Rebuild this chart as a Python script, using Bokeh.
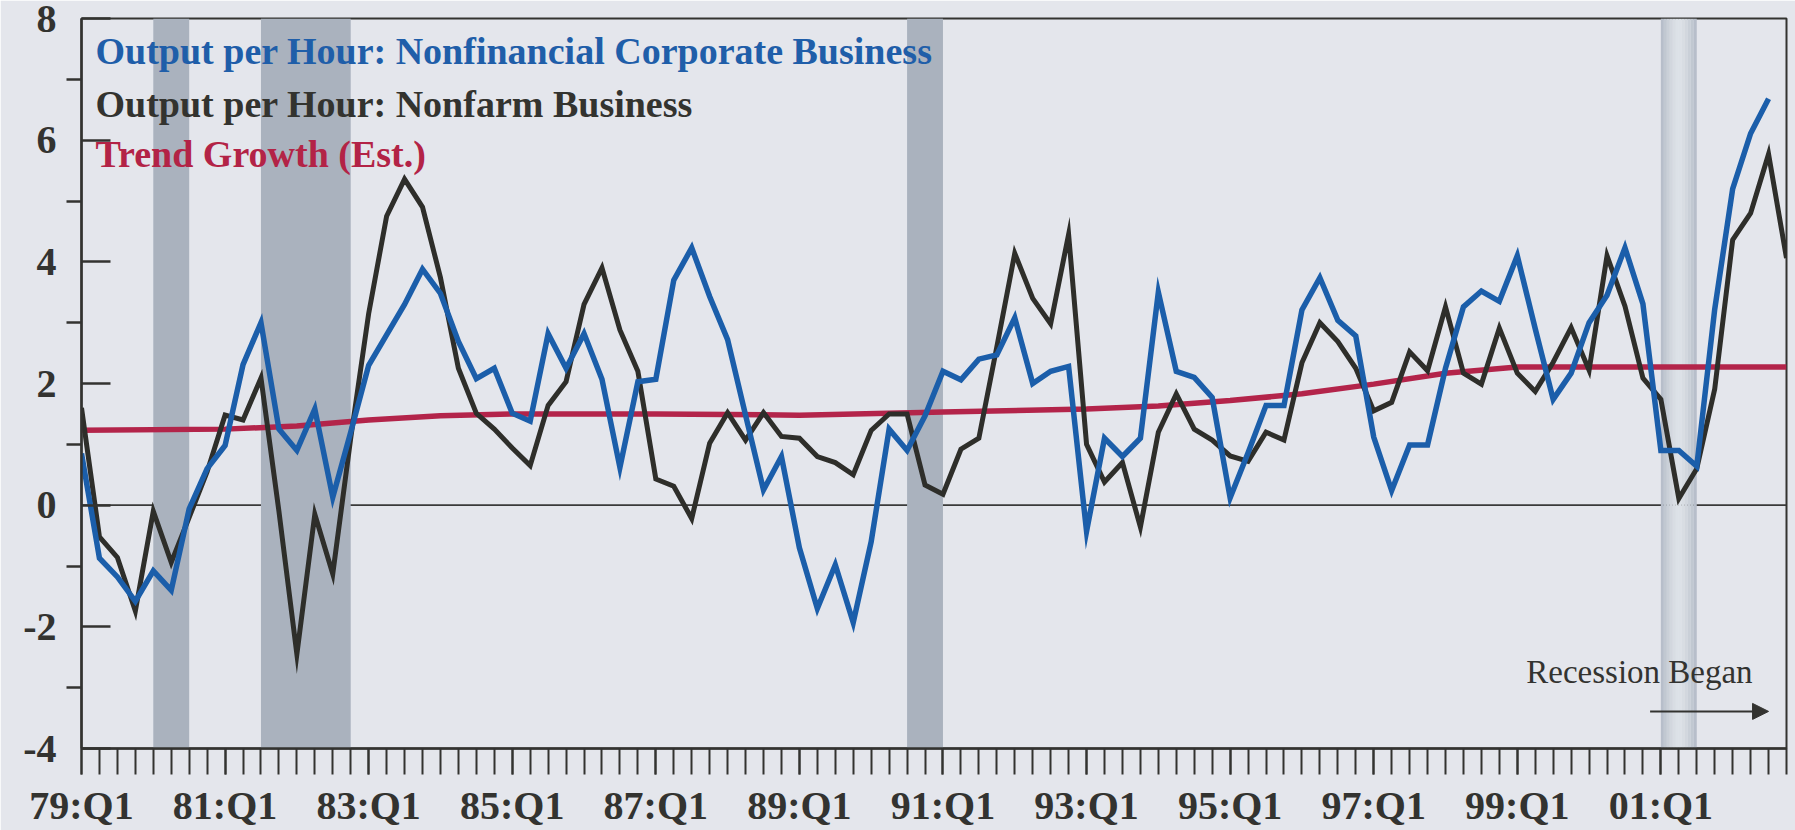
from bokeh.plotting import figure
from bokeh.models import (Range1d, FixedTicker, Span, BoxAnnotation, Label,
                          Arrow, NormalHead)
from bokeh.embed import file_html
from bokeh.resources import INLINE

# ---------------- data (quarter index 0 = 79:Q1) ----------------
nonfarm = [1.6, -0.52, -0.86, -1.74, -0.1, -0.94, -0.2, 0.55, 1.48, 1.4,
           2.09, -0.1, -2.45, -0.15, -1.13, 1.1, 3.15, 4.75, 5.36, 4.9,
           3.74, 2.25, 1.51, 1.25, 0.94, 0.65, 1.64, 2.03, 3.3, 3.9,
           2.88, 2.2, 0.43, 0.31, -0.22, 1.02, 1.52, 1.07, 1.52, 1.13,
           1.1, 0.8, 0.7, 0.5, 1.23, 1.5, 1.5, 0.33, 0.18, 0.92,
           1.1, 2.6, 4.14, 3.4, 2.98, 4.45, 1.0, 0.38, 0.7, -0.36,
           1.2, 1.83, 1.25, 1.07, 0.81, 0.72, 1.2, 1.07, 2.34, 3.0,
           2.69, 2.25, 1.55, 1.69, 2.52, 2.21, 3.26, 2.17, 1.99, 2.91,
           2.17, 1.87, 2.35, 2.92, 2.22, 4.1, 3.27, 2.09, 1.74, 0.11,
           0.6, 1.91, 4.36, 4.8, 5.77, 4.06]
nonfin_corp = [0.85, -0.87, -1.18, -1.58, -1.08, -1.4, -0.06, 0.6, 0.98, 2.31,
               3.0, 1.25, 0.9, 1.58, 0.13, 1.2, 2.3, 2.8, 3.3, 3.88,
               3.48, 2.69, 2.08, 2.25, 1.51, 1.38, 2.82, 2.25, 2.82, 2.07,
               0.62, 2.03, 2.07, 3.7, 4.23, 3.43, 2.72, 1.48, 0.25, 0.8,
               -0.7, -1.7, -0.98, -1.93, -0.6, 1.25, 0.9, 1.47, 2.2, 2.06,
               2.4, 2.47, 3.08, 2.0, 2.2, 2.28, -0.43, 1.1, 0.8, 1.1,
               3.5, 2.2, 2.1, 1.77, 0.12, 0.86, 1.64, 1.64, 3.21, 3.74,
               3.04, 2.78, 1.12, 0.24, 0.99, 0.99, 2.25, 3.26, 3.52, 3.35,
               4.1, 2.9, 1.74, 2.17, 3.0, 3.45, 4.23, 3.31, 0.9, 0.9,
               0.64, 3.22, 5.2, 6.11, 6.68]
trend_q = [0, 8, 12, 16, 20, 24, 32, 40, 48, 56, 60, 64, 68, 72, 76, 80, 95]
trend_v = [1.23, 1.25, 1.3, 1.4, 1.47, 1.5, 1.5, 1.48, 1.53, 1.58, 1.63, 1.72,
           1.83, 1.99, 2.17, 2.27, 2.27]

tick_labels = ["79:Q1", "81:Q1", "83:Q1", "85:Q1", "87:Q1", "89:Q1",
               "91:Q1", "93:Q1", "95:Q1", "97:Q1", "99:Q1", "01:Q1"]
n_quarters = 96

rec_start = [4, 10, 46]
rec_end = [6, 15, 48]
rec2001 = (88, 90)

# ---------------- style ----------------
BG = "#e4e6ec"
BLUE = "#1b5eaa"
BLACK = "#2e2e2a"
RED = "#b3244a"
AXIS = "#333330"
FONT = "Liberation Serif"

p = figure(width=1795, height=830, output_backend="svg", toolbar_location=None,
           x_range=Range1d(0, 95), y_range=Range1d(-4, 8),
           min_border_left=81, min_border_right=9, min_border_top=18,
           min_border_bottom=82, background_fill_color=BG, border_fill_color=BG)
p.grid.visible = False
p.outline_line_color = AXIS
p.outline_line_width = 2

# zero line
p.add_layout(Span(location=0, dimension="width", line_color="#3a3a3a",
                  line_width=1.6, level="underlay"))

# recession bands
for s, e in zip(rec_start, rec_end):
    p.add_layout(BoxAnnotation(left=s, right=e, fill_color="#aab2be", fill_alpha=1.0,
                               line_color=None, level="underlay"))
# 2001 band: shaded cylinder look
nstrip = 12
w = (rec2001[1] - rec2001[0]) / nstrip
for k in range(nstrip):
    t = abs((k + 0.5) / nstrip - 0.5) * 2  # 0 centre, 1 edges
    c0 = (222, 226, 232)
    c1 = (178, 186, 198)
    col = tuple(int(c0[j] + (c1[j] - c0[j]) * t ** 1.5) for j in range(3))
    p.add_layout(BoxAnnotation(left=rec2001[0] + k * w, right=rec2001[0] + (k + 1) * w,
                               fill_color="#%02x%02x%02x" % col, fill_alpha=1.0,
                               line_color=None, level="underlay"))

# series
p.line(trend_q, trend_v, line_color=RED, line_width=5.5)
p.line(list(range(len(nonfarm))), nonfarm, line_color=BLACK, line_width=5,
       line_join="miter")
p.line(list(range(len(nonfin_corp))), nonfin_corp, line_color=BLUE, line_width=5.5,
       line_join="miter")

# y axis
ya = p.yaxis[0]
ya.ticker = FixedTicker(ticks=[-4, -2, 0, 2, 4, 6, 8], minor_ticks=[-3, -1, 1, 3, 5, 7])
ya.major_tick_in = 29
ya.major_tick_out = 0
ya.minor_tick_in = 0
ya.minor_tick_out = 15
ya.major_tick_line_width = 2.5
ya.minor_tick_line_width = 2.5
ya.major_tick_line_color = AXIS
ya.minor_tick_line_color = AXIS
ya.axis_line_width = 2.5
ya.axis_line_color = AXIS
ya.major_label_standoff = 10
ya.major_label_text_font = FONT
ya.major_label_text_font_style = "bold"
ya.major_label_text_font_size = "40px"
ya.major_label_text_color = AXIS
ya.major_label_overrides = {-4: "-4", -2: "-2"}

# x axis: a tick every quarter, labels every two years
label_pos = [8 * k for k in range(len(tick_labels))]
xa = p.xaxis[0]
xa.ticker = FixedTicker(ticks=label_pos, minor_ticks=list(range(n_quarters)))
xa.major_tick_in = 0
xa.major_tick_out = 26
xa.minor_tick_in = 0
xa.minor_tick_out = 26
xa.major_tick_line_width = 2
xa.minor_tick_line_width = 2
xa.major_tick_line_color = AXIS
xa.minor_tick_line_color = AXIS
xa.axis_line_width = 2.5
xa.axis_line_color = AXIS
xa.major_label_overrides = {pos: lab for pos, lab in zip(label_pos, tick_labels)}
xa.major_label_standoff = 8
xa.major_label_text_font = FONT
xa.major_label_text_font_style = "bold"
xa.major_label_text_font_size = "40px"
xa.major_label_text_color = AXIS

# legend texts
legend_items = [("Output per Hour: Nonfinancial Corporate Business", "#1f5ea9", 7.46),
                ("Output per Hour: Nonfarm Business", "#33332f", 6.59),
                ("Trend Growth (Est.)", "#b32346", 5.77)]
for txt, col, yy in legend_items:
    p.add_layout(Label(x=0.78, y=yy, text=txt, text_color=col, text_font=FONT,
                       text_font_style="bold", text_font_size="38px",
                       text_align="left", text_baseline="alphabetic"))

p.add_layout(Label(x=80.5, y=-2.75, text="Recession Began", text_color=AXIS,
                   text_font=FONT, text_font_size="33px", text_align="left",
                   text_baseline="alphabetic"))
p.add_layout(Arrow(x_start=87.4, y_start=-3.39, x_end=94.0, y_end=-3.39,
                   line_color=AXIS, line_width=2,
                   end=NormalHead(size=16, fill_color=AXIS, line_color=AXIS)))

open("out.html", "w").write(file_html(p, INLINE))
